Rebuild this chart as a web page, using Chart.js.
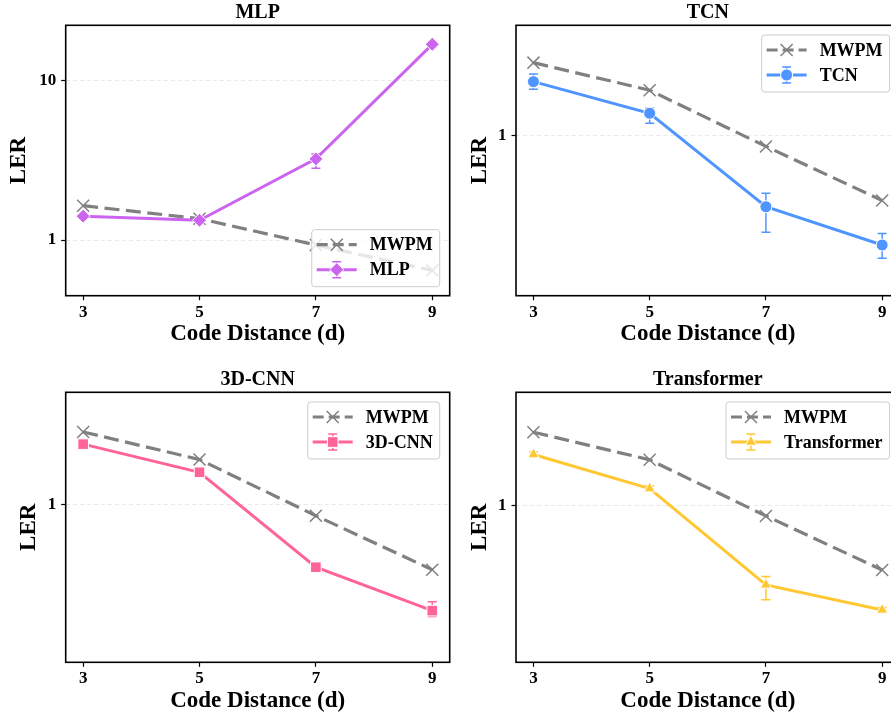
<!DOCTYPE html>
<html>
<head>
<meta charset="utf-8">
<title>LER vs code distance</title>
<script src="https://cdn.jsdelivr.net/npm/chart.js@4/dist/chart.umd.min.js"></script>
<style>
  html, body { margin: 0; padding: 0; background: #fff; overflow: hidden; }
  body { width: 891px; height: 719px; position: relative; }
  canvas { position: absolute; }
</style>
</head>
<body>
<canvas id="mlpChart" width="455" height="350" style="left:0;top:0"></canvas>
<canvas id="tcnChart" width="455" height="350" style="left:450px;top:0"></canvas>
<canvas id="cnnChart" width="455" height="350" style="left:0;top:367px"></canvas>
<canvas id="transChart" width="455" height="350" style="left:450px;top:367px"></canvas>
<script>
const distances = [3, 5, 7, 9];
const mwpmLER = [1.64, 1.36, 0.93, 0.645];

const mlpLER = [1.41, 1.33, 3.22, 16.8];
const mlpLow = [1.38, 1.30, 2.81, 16.3];
const mlpHigh = [1.44, 1.36, 3.46, 17.3];

const tcnLER = [1.442, 1.164, 0.618, 0.477];
const tcnLow = [1.369, 1.088, 0.52, 0.436];
const tcnHigh = [1.518, 1.204, 0.677, 0.516];

const cnnLER = [1.51, 1.248, 0.656, 0.489];
const cnnLow = [1.48, 1.225, 0.645, 0.47];
const cnnHigh = [1.54, 1.27, 0.668, 0.519];

const transLER = [1.41, 1.119, 0.583, 0.492];
const transLow = [1.385, 1.10, 0.527, 0.484];
const transHigh = [1.435, 1.14, 0.617, 0.50];

const yTickValues = [1, 10];

const FONT = "'Liberation Serif', 'Times New Roman', serif";
Chart.defaults.font.family = FONT;
Chart.defaults.font.weight = "bold";
Chart.defaults.color = "#000";

// black box around the plot area (matplotlib spines)
const frame = {
  id: "frame",
  afterDatasetsDraw(chart) {
    const { ctx, chartArea: a } = chart;
    ctx.save();
    ctx.strokeStyle = "#000";
    ctx.lineWidth = 1.6;
    ctx.strokeRect(a.left, a.top, a.right - a.left, a.bottom - a.top);
    ctx.restore();
  }
};

// vertical error bars with caps, drawn under the markers
const errorBars = {
  id: "errorBars",
  beforeDatasetDraw(chart, args) {
    const ds = chart.data.datasets[args.index];
    if (!ds.errLow) return;
    const xs = chart.scales.x, ys = chart.scales.y, ctx = chart.ctx;
    ctx.save();
    ctx.strokeStyle = ds.borderColor;
    ctx.lineWidth = 1.5;
    ds.data.forEach((p, i) => {
      const px = xs.getPixelForValue(p.x);
      const y0 = ys.getPixelForValue(ds.errLow[i]);
      const y1 = ys.getPixelForValue(ds.errHigh[i]);
      ctx.beginPath();
      ctx.moveTo(px, y0); ctx.lineTo(px, y1);
      ctx.moveTo(px - 4.5, y0); ctx.lineTo(px + 4.5, y0);
      ctx.moveTo(px - 4.5, y1); ctx.lineTo(px + 4.5, y1);
      ctx.stroke();
    });
    ctx.restore();
  }
};

function drawMarker(ctx, d, x, y) {
  ctx.save();
  ctx.fillStyle = d.pointBackgroundColor;
  ctx.strokeStyle = d.pointBorderColor;
  ctx.lineWidth = d.pointBorderWidth;
  Chart.helpers.drawPoint(ctx, {
    pointStyle: d.pointStyle, radius: d.pointRadius,
    borderWidth: d.pointBorderWidth, rotation: 0
  }, x, y);
  ctx.restore();
}

// legend box inside the axes, like matplotlib's
const boxLegend = {
  id: "boxLegend",
  afterDraw(chart, args, opts) {
    const { ctx, chartArea: a } = chart;
    const items = chart.data.datasets;
    ctx.save();
    ctx.font = "bold 18px " + FONT;
    const textW = Math.max(...items.map(d => ctx.measureText(d.label).width));
    const w = 5 + 40 + 13 + textW + 7;
    const h = 57;
    const right = a.right - 10;
    const left = right - w;
    const top = opts.corner === "lower" ? a.bottom - 9 - h : a.top + 9.7;

    ctx.beginPath();
    ctx.roundRect(left, top, w, h, 3);
    ctx.fillStyle = "rgba(255,255,255,0.8)";
    ctx.fill();
    ctx.strokeStyle = "#cccccc";
    ctx.lineWidth = 1;
    ctx.stroke();

    items.forEach((d, i) => {
      const cy = top + 15 + i * 25;
      const x0 = left + 5, x1 = x0 + 40, cx = x0 + 20;
      ctx.strokeStyle = d.borderColor;
      ctx.lineWidth = d.borderWidth;
      ctx.setLineDash(d.borderDash ? [11, 5] : []);
      ctx.beginPath();
      ctx.moveTo(x0, cy); ctx.lineTo(x1, cy);
      ctx.stroke();
      ctx.setLineDash([]);
      if (d.errLow) {
        ctx.lineWidth = 1.5;
        ctx.beginPath();
        ctx.moveTo(cx, cy - 8); ctx.lineTo(cx, cy + 8);
        ctx.moveTo(cx - 4.5, cy - 8); ctx.lineTo(cx + 4.5, cy - 8);
        ctx.moveTo(cx - 4.5, cy + 8); ctx.lineTo(cx + 4.5, cy + 8);
        ctx.stroke();
      }
      drawMarker(ctx, d, cx, cy);
      ctx.fillStyle = "#000";
      ctx.textAlign = "left";
      ctx.textBaseline = "middle";
      ctx.fillText(d.label, x1 + 13, cy + 1);
    });
    ctx.restore();
  }
};

function points(values) {
  return distances.map((d, i) => ({ x: d, y: values[i] }));
}

function buildPanel(id, p) {
  const mwpm = {
    label: "MWPM",
    data: points(mwpmLER),
    borderColor: "#808080",
    borderWidth: 3.2,
    borderDash: [15, 6.5],
    pointStyle: "crossRot",
    pointRadius: 8.5,
    pointBackgroundColor: "#808080",
    pointBorderColor: "#808080",
    pointBorderWidth: 1.5,
    order: 1
  };
  const model = {
    label: p.name,
    data: points(p.values),
    errLow: p.low,
    errHigh: p.high,
    borderColor: p.color,
    borderWidth: 3,
    pointStyle: p.marker,
    pointRadius: p.markerSize,
    pointBackgroundColor: p.color,
    pointBorderColor: "#ffffff",
    pointBorderWidth: 1,
    order: 0
  };

  new Chart(document.getElementById(id), {
    type: "line",
    data: { datasets: [mwpm, model] },
    options: {
      responsive: false,
      animation: false,
      devicePixelRatio: 1,
      layout: { autoPadding: false, padding: { left: p.padLeft, right: p.padRight, top: 0, bottom: 0 } },
      plugins: {
        legend: { display: false },
        tooltip: { enabled: false },
        title: {
          display: true,
          fullSize: false,
          text: p.name,
          color: "#000",
          font: { size: 20, weight: "bold" },
          padding: { top: 1, bottom: 0.3 }
        },
        boxLegend: { corner: p.legendCorner }
      },
      scales: {
        x: {
          type: "linear",
          bounds: "data",
          min: 2.7,
          max: 9.3,
          afterBuildTicks: s => { s.ticks = distances.map(v => ({ value: v })); },
          afterFit: s => { s.height = p.xAxisHeight; s.paddingLeft = 0; s.paddingRight = 0; },
          grid: { drawOnChartArea: false, tickLength: 4.5, tickColor: "#000", tickWidth: 1.2 },
          border: { display: false },
          ticks: {
            color: "#000",
            font: { size: 17, weight: "bold" },
            padding: 2,
            maxRotation: 0,
            autoSkip: false,
            callback: v => String(v)
          },
          title: {
            display: true,
            text: "Code Distance (d)",
            color: "#000",
            font: { size: 23, weight: "bold" },
            padding: { top: 0, bottom: 2 }
          }
        },
        y: {
          type: "logarithmic",
          bounds: "data",
          min: p.yMin,
          max: p.yMax,
          afterBuildTicks: s => {
            s.ticks = yTickValues.filter(v => v >= s.min && v <= s.max).map(v => ({ value: v, major: true }));
          },
          afterFit: s => { s.width = p.yAxisWidth; s.paddingTop = 0; s.paddingBottom = 0; },
          grid: {
            color: "#e4e4e4",
            lineWidth: 0.8,
            tickLength: 4.5,
            tickColor: "#000",
            tickWidth: 1.2,
            tickBorderDash: []
          },
          border: { display: false, dash: [4, 3] },
          ticks: {
            color: "#000",
            font: { size: 17, weight: "bold" },
            padding: 5,
            callback: v => String(v)
          },
          title: {
            display: true,
            text: "LER",
            color: "#000",
            font: { size: 23, weight: "bold" },
            padding: { top: 5.4, bottom: 0 }
          }
        }
      }
    },
    plugins: [errorBars, frame, boxLegend]
  });
}

buildPanel("mlpChart", {
  name: "MLP", values: mlpLER, low: mlpLow, high: mlpHigh,
  color: "#cd64f0", marker: "rectRot", markerSize: 7,
  yMin: 0.448, yMax: 22.1, legendCorner: "lower",
  padLeft: 0, padRight: 5.3, yAxisWidth: 65.7, xAxisHeight: 54.3
});
buildPanel("tcnChart", {
  name: "TCN", values: tcnLER, low: tcnLow, high: tcnHigh,
  color: "#4f95ff", marker: "circle", markerSize: 6,
  yMin: 0.3384, yMax: 2.112, legendCorner: "upper",
  padLeft: 10.5, padRight: 5.4, yAxisWidth: 55.5, xAxisHeight: 54.3
});
buildPanel("cnnChart", {
  name: "3D-CNN", values: cnnLER, low: cnnLow, high: cnnHigh,
  color: "#ff6496", marker: "rect", markerSize: 7.5,
  yMin: 0.3446, yMax: 2.145, legendCorner: "upper",
  padLeft: 9.8, padRight: 5.3, yAxisWidth: 55.9, xAxisHeight: 54.7
});
buildPanel("transChart", {
  name: "Transformer", values: transLER, low: transLow, high: transHigh,
  color: "#ffc832", marker: "triangle", markerSize: 6.5,
  yMin: 0.345, yMax: 2.149, legendCorner: "upper",
  padLeft: 10.5, padRight: 5.4, yAxisWidth: 55.5, xAxisHeight: 54.7
});
</script>
</body>
</html>
